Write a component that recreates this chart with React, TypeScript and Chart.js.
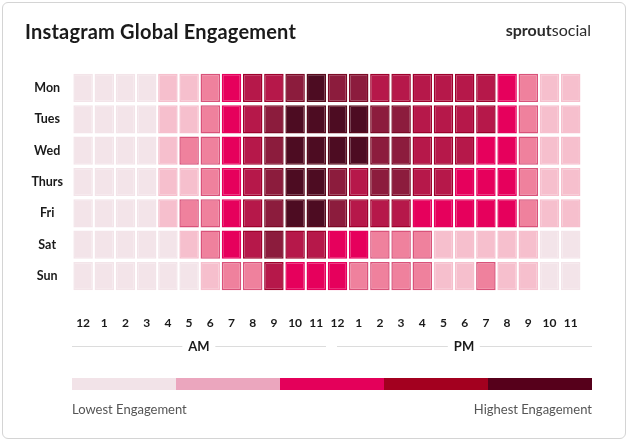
import React, { useEffect, useRef } from "react";
import { Chart, registerables } from "chart.js";
Chart.register(...registerables);

const days = ["Mon", "Tues", "Wed", "Thurs", "Fri", "Sat", "Sun"];
const hourLabels = [
  "12", "1", "2", "3", "4", "5", "6", "7", "8", "9", "10", "11",
  "12", "1", "2", "3", "4", "5", "6", "7", "8", "9", "10", "11",
];
// engagement level per hour (0 = lowest, 6 = highest)
const mon = [0, 0, 0, 0, 1, 1, 2, 3, 4, 4, 5, 6, 5, 5, 4, 4, 4, 4, 4, 4, 3, 2, 1, 1];
const tue = [0, 0, 0, 0, 1, 1, 2, 3, 4, 5, 6, 6, 6, 6, 5, 5, 4, 4, 4, 4, 3, 2, 1, 1];
const wed = [0, 0, 0, 0, 1, 2, 2, 3, 4, 5, 6, 6, 6, 6, 5, 5, 4, 4, 4, 3, 3, 2, 1, 1];
const thu = [0, 0, 0, 0, 1, 1, 2, 3, 4, 5, 6, 6, 5, 4, 5, 5, 4, 4, 3, 3, 3, 2, 1, 1];
const fri = [0, 0, 0, 0, 1, 2, 2, 3, 4, 5, 6, 6, 5, 4, 4, 4, 3, 3, 3, 3, 3, 2, 1, 1];
const sat = [0, 0, 0, 0, 0, 1, 2, 3, 4, 5, 4, 4, 3, 3, 2, 2, 2, 1, 1, 1, 1, 1, 0, 0];
const sun = [0, 0, 0, 0, 0, 0, 1, 2, 2, 4, 3, 3, 3, 2, 2, 2, 2, 1, 1, 2, 1, 1, 0, 0];

const levelFill = ["#f3e4e9", "#f6bfcd", "#ef819d", "#e6005c", "#b6184a", "#8c1c3d", "#4d0c22"];
const levelBorder = ["#f3e4e9", "#f6bfcd", "#d9527a", "#e6005c", "#9f002c", "#7c0a26", "#5a0a1c"];
const legendColors = ["#f2e3e8", "#eba6be", "#e4005a", "#a3001f", "#56001b"];

const FONT = "Lato, 'Open Sans', sans-serif";

export default function App() {
  const ref = useRef<HTMLCanvasElement>(null);
  useEffect(() => {
    document.body.style.margin = "0";
    const grid = [mon, tue, wed, thu, fri, sat, sun];
    const chart = new Chart(ref.current!, {
      type: "bar",
      data: {
        labels: hourLabels,
        datasets: grid.map((row, d) => ({
          label: days[d],
          data: row.map(() => [d + 0.05, d + 0.95]),
          backgroundColor: row.map((l) => levelFill[l]),
          borderColor: row.map((l) => levelBorder[l]),
          borderWidth: 1.5,
          borderSkipped: false,
          grouped: false,
          barPercentage: 0.92,
          categoryPercentage: 1,
        })) as any,
      },
      options: {
        animation: false,
        responsive: false,
        layout: { padding: { left: 0, right: 46.7, top: 72.3, bottom: 104.3 } },
        plugins: {
          legend: { display: false },
          tooltip: { enabled: false },
          title: { display: false },
        },
        scales: {
          x: {
            grid: { display: false, drawTicks: false },
            border: { display: false },
            ticks: {
              color: "#1a1a1a",
              font: { family: FONT, weight: "bold", size: 12 },
              padding: 24,
              maxRotation: 0,
              autoSkip: false,
            },
            afterFit: (s: any) => {
              s.height = 45;
            },
          },
          y: {
            min: 0,
            max: 7,
            reverse: true,
            grid: { display: false, drawTicks: false },
            border: { display: false },
            afterBuildTicks: (s: any) => {
              s.ticks = days.map((_, i) => ({ value: i + 0.5 }));
            },
            ticks: {
              callback: (v: any) => days[Math.floor(Number(v))],
              crossAlign: "center",
              padding: 9.5,
              color: "#1a1a1a",
              font: { family: FONT, weight: "bold", size: 12.5 },
              autoSkip: false,
            },
            afterFit: (s: any) => {
              s.width = 72.5;
            },
          },
        },
      } as any,
    });
    return () => chart.destroy();
  }, []);

  const lineStyle: React.CSSProperties = {
    position: "absolute",
    top: 346,
    height: 1,
    background: "#dcdcdc",
  };
  const ampmLabel: React.CSSProperties = {
    position: "absolute",
    top: 339,
    fontFamily: FONT,
    fontWeight: 700,
    fontSize: 13,
    lineHeight: "15px",
    color: "#1a1a1a",
    background: "#fff",
    padding: "0 6px",
    transform: "translateX(-50%)",
  };
  const legendText: React.CSSProperties = {
    position: "absolute",
    top: 401,
    fontFamily: FONT,
    fontSize: 13,
    lineHeight: "16px",
    color: "#555",
    whiteSpace: "nowrap",
  };

  return (
    <div
      style={{
        position: "fixed",
        left: 0,
        top: 0,
        width: 628,
        height: 441,
        background: "#fff",
        overflow: "hidden",
      }}
    >
      <div
        style={{
          position: "absolute",
          left: 2,
          top: 2,
          width: 622,
          height: 435,
          border: "1px solid #d4d4d4",
          borderRadius: 6,
        }}
      />
      <canvas
        ref={ref}
        width={628}
        height={441}
        style={{ position: "absolute", left: 0, top: 0, width: 628, height: 441 }}
      />
      <div
        style={{
          position: "absolute",
          left: 25,
          top: 20,
          fontFamily: FONT,
          fontWeight: 700,
          fontSize: 20,
          letterSpacing: 0.2,
          lineHeight: "22px",
          color: "#1a1a1a",
          whiteSpace: "nowrap",
        }}
      >
        Instagram Global Engagement
      </div>
      <div
        style={{
          position: "absolute",
          right: 37,
          top: 20,
          fontFamily: FONT,
          fontSize: 16,
          lineHeight: "20px",
          color: "#2b2b2b",
          whiteSpace: "nowrap",
        }}
      >
        <span style={{ fontWeight: 700 }}>sprout</span>
        <span style={{ fontWeight: 400 }}>social</span>
      </div>
      <div style={{ ...lineStyle, left: 72, width: 254 }} />
      <div style={{ ...lineStyle, left: 337, width: 255 }} />
      <div style={{ ...ampmLabel, left: 199 }}>AM</div>
      <div style={{ ...ampmLabel, left: 464 }}>PM</div>
      <div
        style={{
          position: "absolute",
          left: 72,
          top: 378,
          width: 520,
          height: 12,
          display: "flex",
        }}
      >
        {legendColors.map((c, i) => (
          <div key={i} style={{ flex: 1, background: c }} />
        ))}
      </div>
      <div style={{ ...legendText, left: 72 }}>Lowest Engagement</div>
      <div style={{ ...legendText, right: 628 - 592 }}>Highest Engagement</div>
    </div>
  );
}
